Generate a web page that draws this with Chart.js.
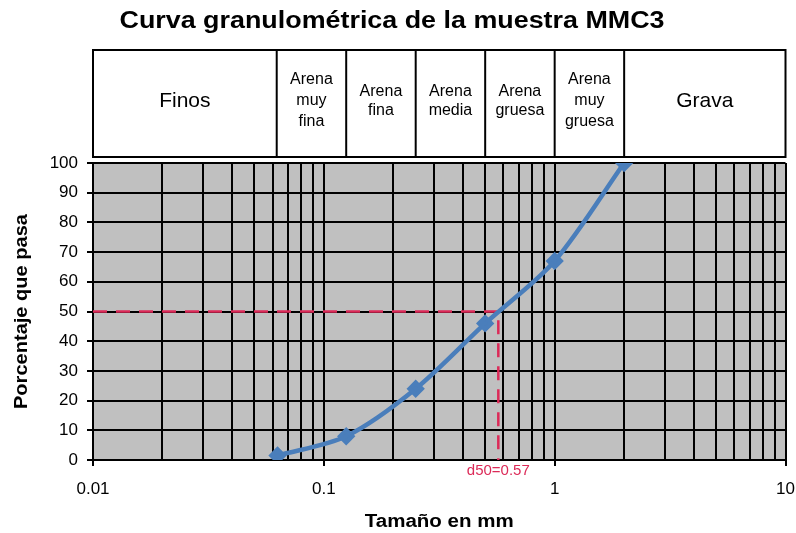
<!DOCTYPE html>
<html>
<head>
<meta charset="utf-8">
<script src="https://cdn.jsdelivr.net/npm/chart.js@4.4.1/dist/chart.umd.min.js"></script>
<style>
  html, body { margin: 0; padding: 0; background: #fff; }
  #wrap { width: 796px; height: 533px; }
</style>
</head>
<body>
<div id="wrap"><canvas id="chart" width="796" height="533"></canvas></div>
<script>
// sieve sizes (mm) and % passing
const sieveMm = [0.063, 0.125, 0.25, 0.5, 1, 2];
const passingPct = [1.5, 8, 24, 46, 67, 100];

// d50 read-off
const d50Mm = 0.57;
const d50Pct = 50;

// log grid lines and labelled decades
const gridMm = [0.01, 0.02, 0.03, 0.04, 0.05, 0.06, 0.07, 0.08, 0.09,
                0.1, 0.2, 0.3, 0.4, 0.5, 0.6, 0.7, 0.8, 0.9,
                1, 2, 3, 4, 5, 6, 7, 8, 9, 10];
const decadeMm = [0.01, 0.1, 1, 10];

// grain size classes shown above the plot
const classEdges = [0.01, 0.0625, 0.125, 0.25, 0.5, 1, 2, 10];
const classLabels = [
  ['Finos'],
  ['Arena', 'muy', 'fina'],
  ['Arena', 'fina'],
  ['Arena', 'media'],
  ['Arena', 'gruesa'],
  ['Arena', 'muy', 'gruesa'],
  ['Grava']
];

const FONT = '"Liberation Sans", Arial, sans-serif';
const RED = '#dc2a58';
Chart.defaults.font.family = FONT;
Chart.defaults.color = '#000';

// the reference text is a bit wider than the font, so stretch it to width
function wideText(ctx, text, x, y, font, width, vertical) {
  ctx.save();
  ctx.translate(x, y);
  if (vertical) ctx.rotate(-Math.PI / 2);
  ctx.font = font;
  const w = ctx.measureText(text).width;
  ctx.scale(width / w, 1);
  ctx.fillText(text, 0, 0);
  ctx.restore();
}

const extras = {
  id: 'extras',
  beforeDraw(chart) {
    const { ctx, chartArea: a } = chart;
    ctx.save();
    ctx.fillStyle = '#c0c0c0';
    ctx.fillRect(a.left, a.top, a.right - a.left, a.bottom - a.top);
    ctx.restore();
  },
  afterDraw(chart) {
    const { ctx, chartArea: a } = chart;
    const xs = chart.scales.x;
    ctx.save();
    ctx.fillStyle = '#000';
    ctx.textAlign = 'center';
    ctx.textBaseline = 'middle';

    // titles
    wideText(ctx, 'Curva granulométrica de la muestra MMC3', 392, 22, 'bold 23px ' + FONT, 545);
    wideText(ctx, 'Tamaño en mm', (a.left + a.right) / 2, 522, 'bold 18px ' + FONT, 149);
    wideText(ctx, 'Porcentaje que pasa', 22, (a.top + a.bottom) / 2, 'bold 18px ' + FONT, 195, true);

    // classification band
    const top = 50, bot = 157;
    ctx.fillStyle = '#fff';
    ctx.fillRect(a.left, top, a.right - a.left, bot - top);
    ctx.strokeStyle = '#000';
    ctx.lineWidth = 2;
    ctx.strokeRect(a.left, top, a.right - a.left, bot - top);
    for (let i = 0; i < classLabels.length; i++) {
      const x0 = xs.getPixelForValue(classEdges[i]);
      const x1 = xs.getPixelForValue(classEdges[i + 1]);
      if (i > 0) {
        ctx.beginPath();
        ctx.moveTo(x0, top);
        ctx.lineTo(x0, bot);
        ctx.stroke();
      }
      const lines = classLabels[i];
      const single = lines.length === 1;
      ctx.font = (single ? '21px ' : '16px ') + FONT;
      ctx.fillStyle = '#000';
      const lh = lines.length === 3 ? 21 : 19;
      const cy = 101;
      lines.forEach((t, k) => {
        ctx.fillText(t, (x0 + x1) / 2, cy + (k - (lines.length - 1) / 2) * lh);
      });
    }

    // d50 label
    ctx.fillStyle = RED;
    ctx.font = '15px ' + FONT;
    ctx.fillText('d50=' + d50Mm, xs.getPixelForValue(d50Mm), a.bottom + 11);
    ctx.restore();
  }
};

new Chart(document.getElementById('chart'), {
  type: 'scatter',
  data: {
    datasets: [{
      label: 'MMC3',
      data: sieveMm.map((x, i) => ({ x: x, y: passingPct[i] })),
      showLine: true,
      tension: 0.3,
      borderColor: '#4a7ebb',
      backgroundColor: '#4a7ebb',
      borderWidth: 4.5,
      pointStyle: 'rectRot',
      pointRadius: 6,
      pointHoverRadius: 6,
      order: 1
    }, {
      label: 'd50',
      data: [{ x: gridMm[0], y: d50Pct }, { x: d50Mm, y: d50Pct }, { x: d50Mm, y: 0 }],
      showLine: true,
      borderColor: RED,
      borderWidth: 2.5,
      borderDash: [14, 9],
      pointRadius: 0,
      tension: 0,
      order: 2
    }]
  },
  options: {
    responsive: false,
    animation: false,
    events: [],
    layout: { padding: { top: 163, right: 9, left: 0, bottom: 0 } },
    plugins: {
      legend: { display: false },
      title: { display: false },
      tooltip: { enabled: false }
    },
    scales: {
      x: {
        type: 'logarithmic',
        min: 0.01,
        max: 10,
        afterBuildTicks: s => { s.ticks = gridMm.map(v => ({ value: v })); },
        afterFit: s => { s.height = 73; s.paddingRight = 0; s.paddingLeft = 0; },
        ticks: {
          autoSkip: false,
          maxRotation: 0,
          padding: 13,
          font: { size: 17 },
          callback: v => decadeMm.includes(v) ? String(v) : ''
        },
        grid: {
          color: '#000',
          lineWidth: 2,
          tickLength: 6,
          tickColor: c => (c.tick && decadeMm.includes(c.tick.value)) ? '#000' : 'rgba(0,0,0,0)'
        },
        border: { color: '#000', width: 2 }
      },
      y: {
        min: 0,
        max: 100,
        afterFit: s => { s.width = 93; },
        ticks: { stepSize: 10, padding: 9, font: { size: 17 } },
        grid: { color: '#000', lineWidth: 2, tickLength: 6 },
        border: { color: '#000', width: 2 }
      }
    }
  },
  plugins: [extras]
});
</script>
</body>
</html>
